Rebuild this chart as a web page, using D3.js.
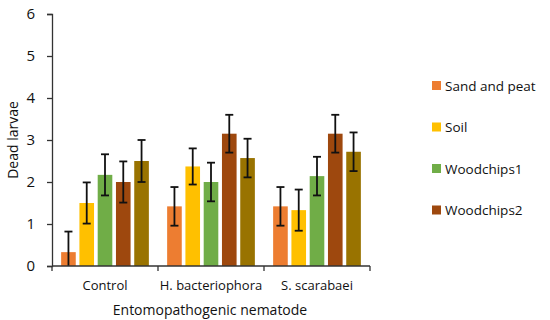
<!DOCTYPE html>
<html>
<head>
<meta charset="utf-8">
<script src="https://cdn.jsdelivr.net/npm/d3@7"></script>
<style>
  body { margin: 0; background: #fff; }
  text { font-family: "Open Sans", "Noto Sans", sans-serif; fill: #111; }
</style>
</head>
<body>
<svg id="chart" width="550" height="320"></svg>
<script>
// groups on the x axis
const groups = ["Control", "H. bacteriophora", "S. scarabaei"];
// series (the last one has no legend entry in the original)
const series = ["Sand and peat", "Soil", "Woodchips1", "Woodchips2", "Series5"];
const legendNames = ["Sand and peat", "Soil", "Woodchips1", "Woodchips2"];
const colors = ["#ED7D31", "#FFC000", "#70AD47", "#9E480E", "#997300"];

// mean values, one array per group, in series order
const control = [0.33, 1.5, 2.17, 2.0, 2.5];
const hBact   = [1.42, 2.37, 2.0, 3.15, 2.57];
const sScar   = [1.42, 1.33, 2.14, 3.15, 2.72];
// error (half width)
const controlErr = [0.49, 0.49, 0.49, 0.49, 0.5];
const hBactErr   = [0.46, 0.43, 0.46, 0.45, 0.46];
const sScarErr   = [0.46, 0.49, 0.46, 0.45, 0.46];
const yTicks = [0, 1, 2, 3, 4, 5, 6];

const values = [control, hBact, sScar];
const errors = [controlErr, hBactErr, sScarErr];

const svg = d3.select("svg#chart");
const mLeft = 52, mRight = 370, mTop = 14, mBottom = 266;

const x = d3.scaleBand().domain(groups).range([mLeft, mRight]).paddingInner(0).paddingOuter(0);
const xs = d3.scaleBand().domain(series).range([0, x.bandwidth()]).paddingInner(0.2).paddingOuter(0.5);
const y = d3.scaleLinear().domain([0, 6]).range([mBottom, mTop]);

// bars
groups.forEach(function(g, gi) {
  const grp = svg.append("g").attr("transform", "translate(" + x(g) + ",0)");
  series.forEach(function(s, si) {
    const v = values[gi][si];
    const e = errors[gi][si];
    const cx = xs(s) + xs.bandwidth() / 2;
    grp.append("rect")
      .attr("x", xs(s))
      .attr("y", y(v))
      .attr("width", xs.bandwidth())
      .attr("height", y(0) - y(v))
      .attr("fill", colors[si]);
    const lo = Math.max(0, v - e);
    grp.append("line")
      .attr("x1", cx).attr("x2", cx)
      .attr("y1", y(v + e)).attr("y2", y(lo))
      .attr("stroke", "#111").attr("stroke-width", 1.8);
    grp.append("line")
      .attr("x1", cx - 4).attr("x2", cx + 4)
      .attr("y1", y(v + e)).attr("y2", y(v + e))
      .attr("stroke", "#111").attr("stroke-width", 1.8);
    if (v - e > 0) {
      grp.append("line")
        .attr("x1", cx - 4).attr("x2", cx + 4)
        .attr("y1", y(lo)).attr("y2", y(lo))
        .attr("stroke", "#111").attr("stroke-width", 1.8);
    }
  });
});

// y axis
const yAxis = svg.append("g")
  .attr("transform", "translate(" + mLeft + ",0)")
  .call(d3.axisLeft(y).tickValues(yTicks).tickSize(5).tickPadding(12).tickFormat(d3.format("d")));
yAxis.select(".domain").attr("stroke", "#333").attr("stroke-width", 1.3);
yAxis.selectAll(".tick line").attr("stroke", "#333").attr("stroke-width", 1.3);
yAxis.selectAll(".tick text").attr("font-size", 15).attr("fill", "#111")
  .style("font-family", '"Open Sans", "Noto Sans", sans-serif');

// x axis line with boundary ticks
svg.append("line")
  .attr("x1", mLeft).attr("x2", mRight)
  .attr("y1", mBottom).attr("y2", mBottom)
  .attr("stroke", "#333").attr("stroke-width", 1.3);
const bounds = groups.map(function(g) { return x(g); }).concat([mRight]);
bounds.forEach(function(b) {
  svg.append("line")
    .attr("x1", b).attr("x2", b)
    .attr("y1", mBottom).attr("y2", mBottom + 5)
    .attr("stroke", "#333").attr("stroke-width", 1.3);
});
groups.forEach(function(g) {
  svg.append("text")
    .attr("x", x(g) + x.bandwidth() / 2)
    .attr("y", mBottom + 24)
    .attr("text-anchor", "middle")
    .attr("font-size", 13)
    .text(g);
});

// axis titles
svg.append("text")
  .attr("x", (mLeft + mRight) / 2 - 1)
  .attr("y", 315)
  .attr("text-anchor", "middle")
  .attr("font-size", 14)
  .text("Entomopathogenic nematode");
svg.append("text")
  .attr("transform", "translate(18," + ((mTop + mBottom) / 2) + ") rotate(-90)")
  .attr("text-anchor", "middle")
  .attr("font-size", 14)
  .text("Dead larvae");

// legend
const legend = svg.append("g").attr("transform", "translate(432,81)");
legendNames.forEach(function(n, i) {
  const row = legend.append("g").attr("transform", "translate(0," + (i * 41.5) + ")");
  row.append("rect").attr("width", 9).attr("height", 9).attr("fill", colors[i]);
  row.append("text").attr("x", 13).attr("y", 9.5).attr("font-size", 13.5).text(n);
});
</script>
</body>
</html>
